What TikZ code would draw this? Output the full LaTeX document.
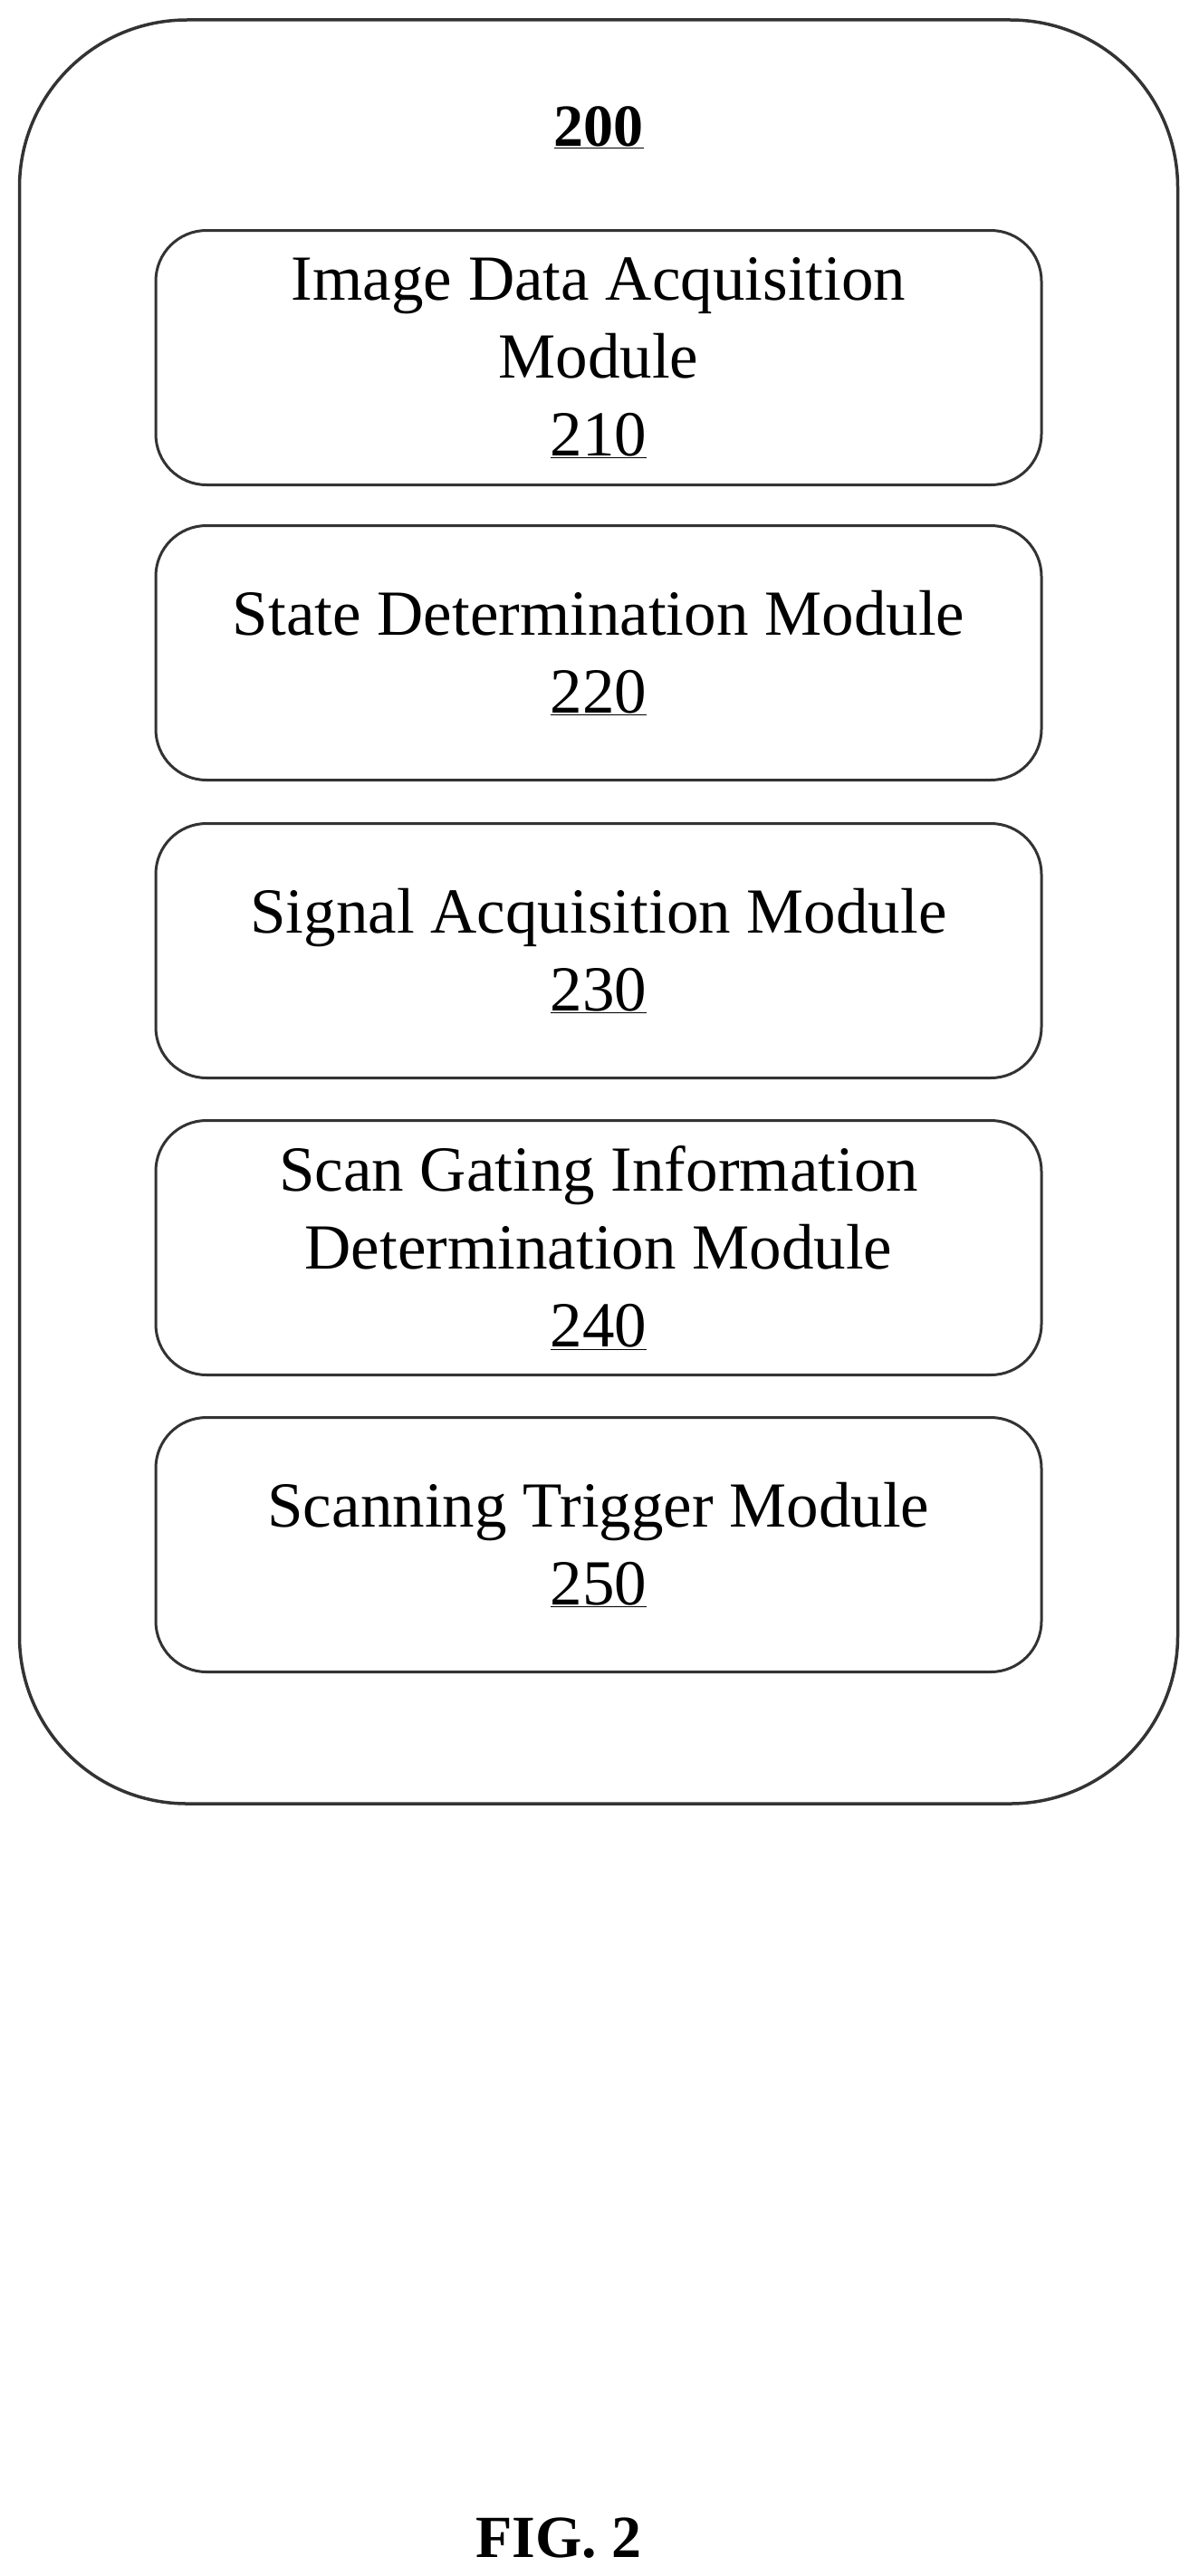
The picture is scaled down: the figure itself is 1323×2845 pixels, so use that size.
\documentclass[tikz,border=0pt]{standalone}
\usepackage{fontspec}
\setmainfont{Liberation Serif}
\begin{document}
\begin{tikzpicture}[x=1pt,y=-1pt,
 mod/.style={draw=black!80,line width=3pt,rounded corners=56pt,minimum width=978pt,minimum height=281pt,align=center,font=\fontsize{71}{86}\selectfont}]
\useasboundingbox (0,0) rectangle (1323,2845);
\node[draw=black!80,line width=3.5pt,rounded corners=185pt,minimum width=1279pt,minimum height=1970pt] (outer) at (661,1007) {};
\node[font=\fontsize{66}{70}\selectfont\bfseries] (t200) at (661,141) {\underline{200}};
\node[mod] (m210) at (661,395) {Image Data Acquisition\\Module\\\underline{210}};
\node[mod] (m220) at (661,721) {State Determination Module\\\underline{220}};
\node[mod] (m230) at (661,1050) {Signal Acquisition Module\\\underline{230}};
\node[mod] (m240) at (661,1378) {Scan Gating Information\\Determination Module\\\underline{240}};
\node[mod] (m250) at (661,1706) {Scanning Trigger Module\\\underline{250}};
\node[font=\fontsize{66}{70}\selectfont\bfseries] (fig) at (617,2803) {FIG. 2};
\end{tikzpicture}
\end{document}
